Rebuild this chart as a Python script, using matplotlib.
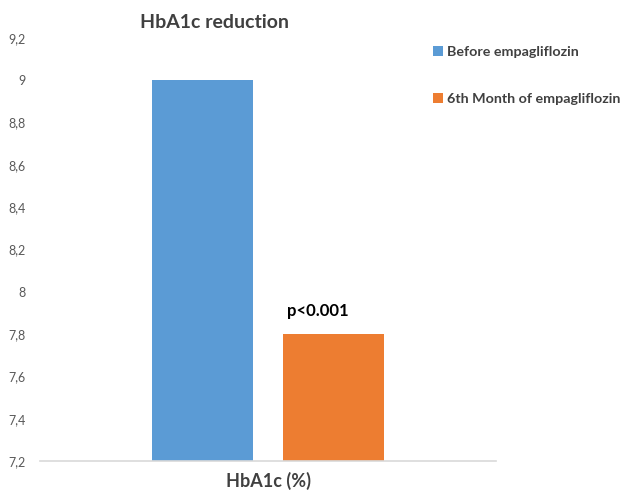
import numpy as np
import matplotlib.pyplot as plt
from matplotlib.patches import Patch

plt.rcParams['font.family'] = ['Lato', 'DejaVu Sans']

# Data
series = ['Before empagliflozin', '6th Month of empagliflozin']
values = [9.0, 7.8]
colors = ['#5b9bd5', '#ed7d31']
category = 'HbA1c (%)'
yticks = [7.2, 7.4, 7.6, 7.8, 8.0, 8.2, 8.4, 8.6, 8.8, 9.0, 9.2]
ytick_labels = ['7,2', '7,4', '7,6', '7,8', '8', '8,2', '8,4', '8,6', '8,8', '9', '9,2']

fig = plt.figure(figsize=(6.29, 4.93), dpi=100)
ax = fig.add_axes([40 / 629, 1 - 461 / 493, 456 / 629, (461 - 38) / 493])

offsets = [-0.286, 0.286]
width = 0.444
for off, v, c in zip(offsets, values, colors):
    ax.bar(off, v - 7.2, width, bottom=7.2, color=c)

ax.set_xlim(-1, 1)
ax.set_ylim(7.2, 9.2)
ax.set_yticks(yticks)
ax.set_yticklabels(ytick_labels)
ax.set_xticks([0])
ax.set_xticklabels([category], fontsize=13, fontweight='bold', color='#404040')
ax.tick_params(axis='y', length=0, labelsize=9, labelcolor='#595959', pad=10)
ax.tick_params(axis='x', length=0, pad=8)

for s in ['top', 'right', 'left']:
    ax.spines[s].set_visible(False)
ax.spines['bottom'].set_color('#d9d9d9')
ax.spines['bottom'].set_linewidth(1.2)

# p-value annotation
ax.text(0.22, values[1] + 0.07, 'p<0.001', ha='center', va='bottom',
        fontsize=12, fontweight='bold', color='black')

fig.text(214 / 629, 1 - 22 / 493, 'HbA1c reduction', ha='center', va='center',
         fontsize=14, fontweight='bold', color='#404040')

handles = [Patch(facecolor=c, label=s) for s, c in zip(series, colors)]
leg = fig.legend(handles=handles, loc='upper left', bbox_to_anchor=(420 / 629, 1 - 33 / 493),
                 frameon=False, handlelength=0.7, handleheight=0.7, handletextpad=0.3,
                 labelspacing=2.45, prop={'weight': 'bold', 'size': 10.3})
for t in leg.get_texts():
    t.set_color('#404040')

fig.savefig('out.png', dpi=100)
